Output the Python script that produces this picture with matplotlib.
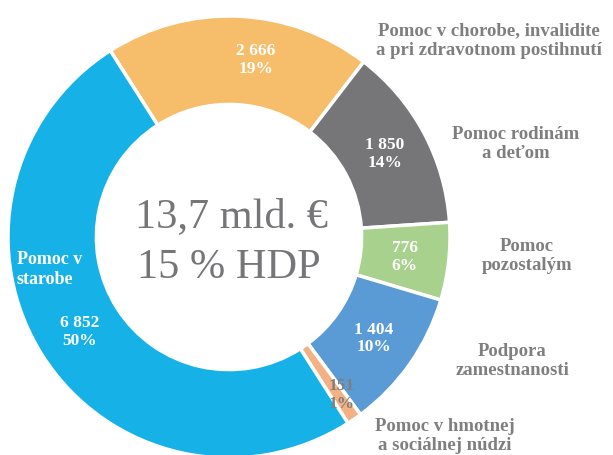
import matplotlib.pyplot as plt
import numpy as np

# data
values = [2666, 1850, 776, 1404, 151, 6852]
percents = ['19%', '14%', '6%', '10%', '1%', '50%']
colors = ['#F6BD6B', '#767679', '#A9D18E', '#5B9BD5', '#F4B183', '#16B1E7']
num_colors = ['white', 'white', 'white', 'white', '#7F7F7F', 'white']
outer_labels = ['Pomoc v chorobe, invalidite\na pri zdravotnom postihnutí',
                'Pomoc rodinám\na deťom',
                'Pomoc\npozostalým',
                'Podpora\nzamestnanosti',
                'Pomoc v hmotnej\na sociálnej núdzi']

plt.rcParams['font.family'] = ['Liberation Serif', 'DejaVu Serif']
grey = '#7F7F7F'

fig = plt.figure(figsize=(6.13, 4.55), dpi=100)
# axes so that the ring sits left of centre, radius ~221 px
ax = fig.add_axes([8 / 613, -3 / 455, 442 / 613, 442 / 455])

def fmt(v):
    return '{:,}'.format(v).replace(',', ' ')

wedges, texts = ax.pie(values, colors=colors, startangle=122.5, counterclock=False,
                       radius=1, wedgeprops=dict(width=0.4, edgecolor='white', linewidth=2.5))

# small manual nudges of data labels (angle shift in degrees, radius)
nudge = [(-6, 0.81), (0, 0.8), (0, 0.8), (0, 0.8), (1, 0.88), (0, 0.8)]
for w, v, p, c, (da, r) in zip(wedges, values, percents, num_colors, nudge):
    ang = np.deg2rad((w.theta1 + w.theta2) / 2 + da)
    ax.text(r * np.cos(ang), r * np.sin(ang), fmt(v) + '\n' + p, ha='center', va='center',
            color=c, fontsize=12.5, fontweight='bold', linespacing=1.15)

ax.text(-0.96, -0.065, 'Pomoc v\nstarobe', ha='left', va='top', color='white',
        fontsize=13, fontweight='bold', linespacing=1.2)

ax.text(0.01, 0.09, '13,7 mld. €', ha='center', va='center', color='#767679', fontsize=30.5)
ax.text(0.0, -0.14, '15 % HDP', ha='center', va='center', color='#767679', fontsize=30.5)

# outside labels, figure pixel positions
pos = [(489, 41), (516, 144), (527, 256), (512, 361), (445, 436)]
for (px, py), lab in zip(pos, outer_labels):
    fig.text(px / 613, 1 - py / 455, lab, ha='center', va='center', color=grey,
             fontsize=13.5, fontweight='bold', linespacing=1.2)

ax.set_xlim(-1, 1)
ax.set_ylim(-1, 1)
ax.set_aspect('equal')
ax.axis('off')

fig.savefig('out.png', dpi=100)
